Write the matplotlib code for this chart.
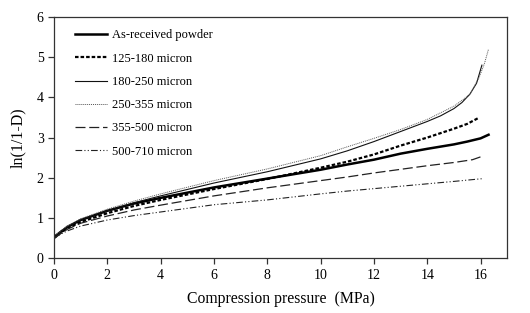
import matplotlib
matplotlib.use("Agg")
import matplotlib.pyplot as plt
import numpy as np

plt.rcParams['font.family'] = ['Liberation Serif', 'DejaVu Serif']

# As-received powder
x_asr = [0, 0.25, 0.5, 1, 2, 3, 4, 6, 8, 10, 11, 12, 13, 14, 15, 15.5, 16, 16.3]
y_asr = [0.52, 0.65, 0.78, 0.95, 1.18, 1.36, 1.5, 1.76, 1.98, 2.2, 2.33, 2.45, 2.6, 2.72, 2.83, 2.9, 2.98, 3.07]

# 125-180 micron
x_125 = [0, 0.25, 0.5, 1, 2, 3, 4, 6, 8, 10, 11, 12, 13, 14, 15, 15.5, 15.9]
y_125 = [0.5, 0.63, 0.75, 0.9, 1.12, 1.3, 1.45, 1.72, 1.97, 2.25, 2.4, 2.58, 2.8, 3.0, 3.22, 3.34, 3.48]

# 180-250 micron
x_180 = [0, 0.25, 0.5, 1, 2, 3, 4, 6, 8, 10, 11, 12, 13, 14, 14.5, 15, 15.3, 15.6, 15.85, 16.05]
y_180 = [0.55, 0.67, 0.78, 0.95, 1.18, 1.38, 1.55, 1.87, 2.15, 2.47, 2.67, 2.9, 3.15, 3.4, 3.54, 3.72, 3.87, 4.08, 4.35, 4.8]

# 250-355 micron
x_250 = [0, 0.25, 0.5, 1, 2, 3, 4, 6, 8, 10, 11, 12, 13, 14, 15, 15.6, 15.95, 16.15, 16.3]
y_250 = [0.55, 0.68, 0.8, 0.98, 1.22, 1.42, 1.6, 1.93, 2.22, 2.55, 2.77, 2.98, 3.2, 3.45, 3.78, 4.07, 4.5, 4.85, 5.2]

# 355-500 micron
x_355 = [0, 0.25, 0.5, 1, 2, 3, 4, 6, 8, 10, 11, 12, 14, 15, 15.7, 16]
y_355 = [0.5, 0.62, 0.72, 0.87, 1.05, 1.2, 1.32, 1.55, 1.75, 1.93, 2.02, 2.12, 2.3, 2.38, 2.45, 2.52]

# 500-710 micron
x_500 = [0, 0.25, 0.5, 1, 2, 3, 4, 6, 8, 10, 11, 12, 14, 15, 16.1]
y_500 = [0.5, 0.6, 0.68, 0.8, 0.95, 1.06, 1.15, 1.33, 1.45, 1.6, 1.67, 1.73, 1.85, 1.91, 1.98]

labels = ["As-received powder", "125-180 micron", "180-250 micron",
          "250-355 micron", "355-500 micron", "500-710 micron"]

xticks = [0, 2, 4, 6, 8, 10, 12, 14, 16]
yticks = [0, 1, 2, 3, 4, 5, 6]

fig = plt.figure(figsize=(5.3, 3.13), dpi=100)
ax = fig.add_axes([0.102, 0.175, 0.855, 0.771])

ax.plot(x_asr, y_asr, color='black', lw=1.8, ls='-', label=labels[0])
ax.plot(x_125, y_125, color='black', lw=1.6, ls=(0, (1.6, 0.9)), label=labels[1])
ax.plot(x_180, y_180, color='#111111', lw=0.8, ls='-', label=labels[2])
ax.plot(x_250, y_250, color='#555555', lw=0.7, ls=(0, (1, 1)), label=labels[3])
ax.plot(x_355, y_355, color='#222222', lw=0.9, ls=(0, (8, 3)), label=labels[4])
ax.plot(x_500, y_500, color='#222222', lw=0.8, ls=(0, (6, 2, 1, 2, 1, 2)), label=labels[5])

ax.set_xlim(0, 17)
ax.set_ylim(0, 6)
ax.set_xticks(xticks)
ax.set_yticks(yticks)
ax.tick_params(direction='out', length=4, width=0.9, colors='#333333', labelsize=10,
               labelcolor='black', top=False, right=False)
for s in ax.spines.values():
    s.set_color('#333333')
    s.set_linewidth(0.9)

ax.set_xlabel("Compression pressure  (MPa)", fontsize=11.3, labelpad=7)
ax.set_ylabel("ln(1/1-D)", fontsize=11.5, labelpad=8)

leg = ax.legend(loc='upper left', frameon=False, fontsize=9, handlelength=2.6,
                handletextpad=0.35, labelspacing=0.9, borderpad=0, borderaxespad=0,
                bbox_to_anchor=(0.046, 0.948))

fig.savefig("out.png", dpi=100)
